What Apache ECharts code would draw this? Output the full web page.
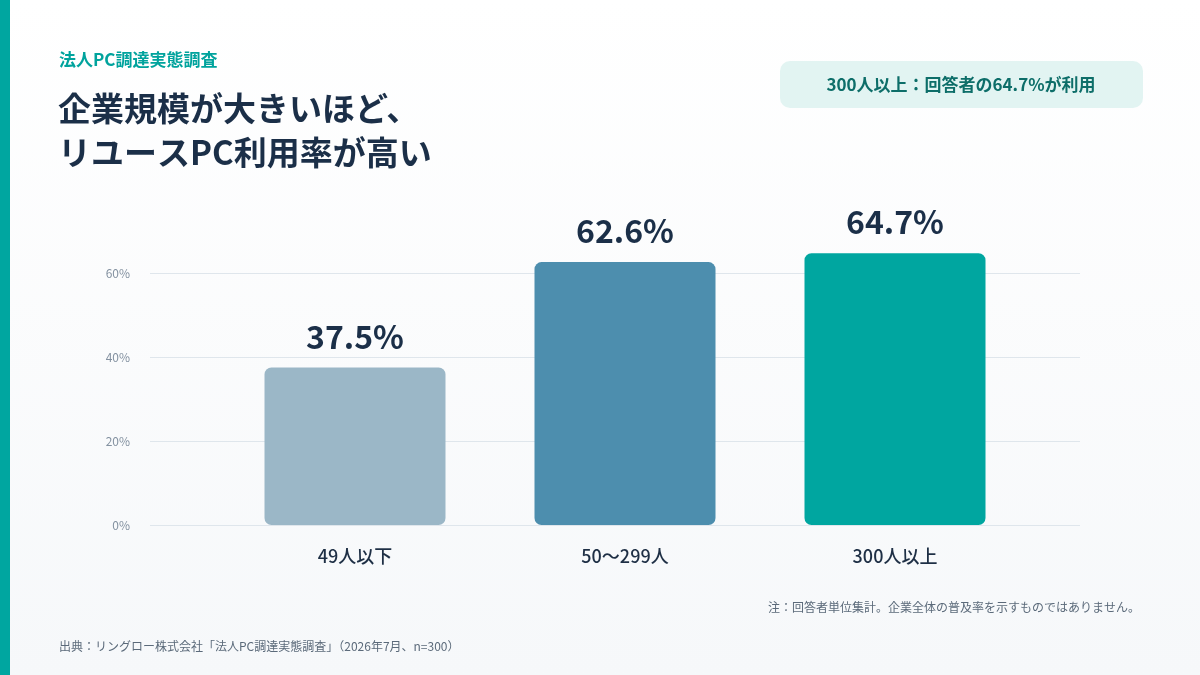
<!DOCTYPE html>
<html>
<head>
<meta charset="utf-8">
<script src="https://cdn.jsdelivr.net/npm/echarts@6/dist/echarts.min.js"></script>
<style>
  html, body { margin: 0; padding: 0; }
  #chart { width: 1200px; height: 675px; }
</style>
</head>
<body>
<div id="chart"></div>
<script>
// data
var categories = ["49人以下", "50〜299人", "300人以上"];
var usageRate = [37.5, 62.6, 64.7];
var barColors = ["#9bb7c7", "#4d8eae", "#00a6a0"];
var yTicks = [0, 20, 40, 60];

var FONT = '"Noto Sans CJK JP", "Noto Sans", sans-serif';

var chart = echarts.init(document.getElementById("chart"));

var option = {
  backgroundColor: {
    type: "linear", x: 0, y: 0, x2: 0, y2: 1,
    colorStops: [{ offset: 0, color: "#ffffff" }, { offset: 1, color: "#f6f8fa" }]
  },
  textStyle: { fontFamily: FONT },
  graphic: [
    { type: "rect", left: 0, top: 0, shape: { width: 10, height: 675 }, style: { fill: "#00a6a0" } },
    { type: "text", left: 59, top: 51, style: { text: "法人PC調達実態調査", fill: "#00a39d", font: "bold 17px " + FONT } },
    { type: "text", left: 58, top: 86, style: { text: "企業規模が大きいほど、\nリユースPC利用率が高い", fill: "#1b2f48", font: "bold 33px " + FONT, lineHeight: 44 } },
    { type: "rect", left: 780, top: 61, shape: { width: 363, height: 47, r: 10 }, style: { fill: "#e2f4f2" } },
    { type: "text", x: 961, y: 85, style: { text: "300人以上：回答者の64.7%が利用", fill: "#0d6e69", font: "bold 17px " + FONT, align: "center", verticalAlign: "middle" } },
    { type: "text", x: 1140, y: 607, style: { text: "注：回答者単位集計。企業全体の普及率を示すものではありません。", fill: "#5b6a7a", font: "12px " + FONT, align: "right", verticalAlign: "middle" } },
    { type: "text", x: 59, y: 646, style: { text: "出典：リングロー株式会社「法人PC調達実態調査」（2026年7月、n=300）", fill: "#5b6a7a", font: "12px " + FONT, verticalAlign: "middle" } }
  ],
  grid: [
    { left: 150, right: 120, top: 189, bottom: 150 },
    { left: 220, right: 170, top: 189, bottom: 150 }
  ],
  xAxis: [
    { gridIndex: 0, type: "category", data: categories, show: false },
    {
      gridIndex: 1, type: "category", data: categories,
      axisLine: { show: false }, axisTick: { show: false },
      axisLabel: { margin: 22, fontSize: 18, fontWeight: 500, color: "#1e2f45", fontFamily: FONT }
    }
  ],
  yAxis: [
    {
      gridIndex: 0, type: "value", min: 0, max: 80, interval: 20,
      axisLine: { show: false }, axisTick: { show: false },
      axisLabel: {
        showMaxLabel: false, margin: 20, fontSize: 12, color: "#8391a0", fontFamily: FONT,
        formatter: function (v) { return yTicks.indexOf(v) > -1 ? v + "%" : ""; }
      },
      splitLine: { showMaxLine: false, lineStyle: { color: "#dfe6ec", width: 1 } }
    },
    { gridIndex: 1, type: "value", min: 0, max: 80, interval: 20, show: false, splitLine: { show: false } }
  ],
  series: [{
    type: "bar",
    xAxisIndex: 1,
    yAxisIndex: 1,
    barWidth: 181,
    data: usageRate.map(function (v, i) {
      return { value: v, itemStyle: { color: barColors[i] } };
    }),
    itemStyle: { borderRadius: 7 },
    label: {
      show: true, position: "top", distance: 15,
      fontSize: 32, fontWeight: "bold", color: "#1b2f48", fontFamily: FONT,
      formatter: function (p) { return p.value.toFixed(1) + "%"; }
    },
    silent: true
  }]
};

chart.setOption(option);
</script>
</body>
</html>
